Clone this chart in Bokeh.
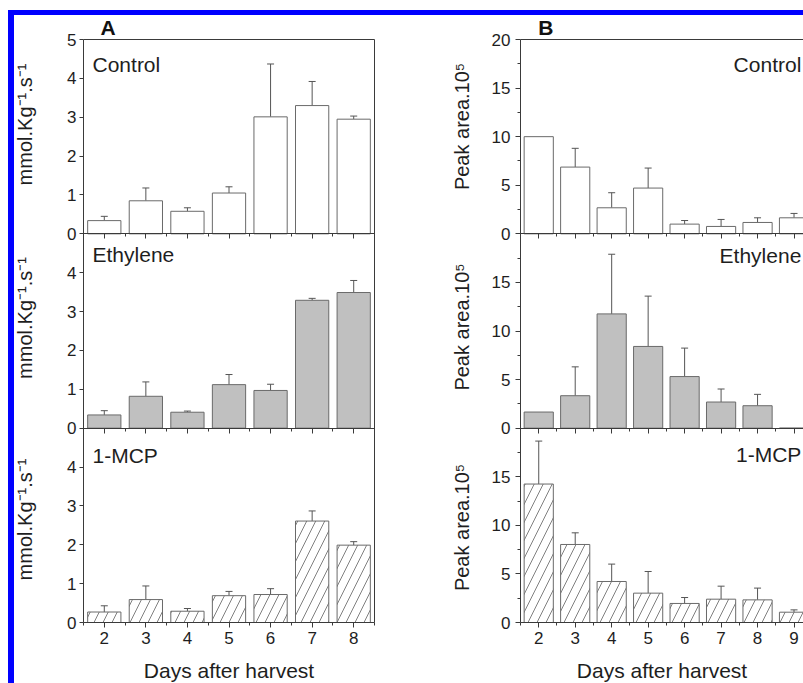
from bokeh.plotting import figure
from bokeh.models import (Range1d, LinearAxis, FixedTicker, SingleIntervalTicker,
                          ColumnDataSource, Whisker, TeeHead, Label, Spacer)
from bokeh.layouts import row, column
from bokeh.embed import file_html
from bokeh.resources import INLINE

# ---------------- data ----------------
days_A = [2, 3, 4, 5, 6, 7, 8]
control_A = [0.34, 0.85, 0.58, 1.05, 3.01, 3.30, 2.95]
control_A_err = [0.11, 0.33, 0.09, 0.16, 1.36, 0.62, 0.08]
ethylene_A = [0.34, 0.82, 0.41, 1.12, 0.97, 3.29, 3.49]
ethylene_A_err = [0.11, 0.37, 0.03, 0.26, 0.16, 0.05, 0.31]
mcp_A = [0.27, 0.59, 0.29, 0.69, 0.72, 2.61, 1.99]
mcp_A_err = [0.16, 0.35, 0.07, 0.11, 0.15, 0.26, 0.09]

days_B = [2, 3, 4, 5, 6, 7, 8, 9]
control_B = [10.0, 6.87, 2.68, 4.71, 1.00, 0.76, 1.17, 1.65]
control_B_err = [0.0, 1.93, 1.55, 2.06, 0.37, 0.72, 0.48, 0.45]
ethylene_B = [1.66, 3.34, 11.76, 8.41, 5.31, 2.69, 2.31, 0.0]
ethylene_B_err = [0.0, 2.97, 6.14, 5.18, 2.93, 1.34, 1.17, 0.0]
mcp_B = [14.25, 8.03, 4.22, 3.02, 1.96, 2.40, 2.33, 1.06]
mcp_B_err = [4.42, 1.20, 1.79, 2.23, 0.61, 1.34, 1.21, 0.24]

treatments = ["Control", "Ethylene", "1-MCP"]
yticks_A_top = [0, 1, 2, 3, 4, 5]
yticks_A = [0, 1, 2, 3, 4]
yticks_B_top = [0, 5, 10, 15, 20]
yticks_B = [0, 5, 10, 15]
yminor_B = [2.5, 7.5, 12.5, 17.5]
ylabel_A = "mmol.Kg\u207b\u00b9.s\u207b\u00b9"
ylabel_B = "Peak area.10\u2075"
xlabel = "Days after harvest"

# ---------------- style ----------------
FONT = "Liberation Sans"
AX = "#3a3a3a"
TXT = "#1e1e1e"
BAR_LINE = "#6a6a6a"
ERR = "#555555"
GRAY = "#c0c0c0"
BLUE = "#0000ff"
CANVAS_H = 668


def style_axis(ax, tick_out, minor_out, standoff, labels=True, line=True):
    ax.axis_line_color = AX if line else None
    ax.axis_line_width = 1
    ax.major_tick_line_color = AX
    ax.minor_tick_line_color = AX
    ax.major_tick_out = tick_out
    ax.major_tick_in = 0
    ax.minor_tick_out = minor_out
    ax.minor_tick_in = 0
    ax.major_label_text_font = FONT
    ax.major_label_text_font_size = "17px"
    ax.major_label_text_color = TXT if labels else None
    ax.major_label_standoff = standoff
    ax.axis_label_text_font = FONT
    ax.axis_label_text_font_size = "20px"
    ax.axis_label_text_font_style = "normal"
    ax.axis_label_text_color = TXT


def make_panel(days, series, band_h, x_hi, width, frame_left, px_x, ylabel,
               top_ticks, ticks, minor, tick_out, minor_out, lab_standoff, axlab_standoff,
               label_tops, letter, letter_xy, name_x, name_ys, name_align, right_edge):
    total = band_h * 3
    frame_top, frame_h = 24, 583
    px_y = frame_h / total
    x0 = 1.5 - frame_left / px_x
    x1 = x0 + width / px_x
    y1 = total + frame_top / px_y
    y0 = y1 - CANVAS_H / px_y
    p = figure(width=width, height=CANVAS_H, x_range=Range1d(x0, x1), y_range=Range1d(y0, y1),
               x_axis_location=None, y_axis_location=None, toolbar_location=None,
               output_backend="svg", min_border=0, outline_line_color=None,
               background_fill_color="white", border_fill_color="white")
    p.grid.visible = False

    p.extra_y_ranges = {s["key"]: Range1d(y0 - band_h * (2 - i), y1 - band_h * (2 - i))
                        for i, s in enumerate(series)}

    # bottom axis with labels
    xb = LinearAxis(fixed_location=0, bounds=(1.5, x_hi), axis_label=xlabel,
                    ticker=SingleIntervalTicker(interval=1, num_minor_ticks=2))
    style_axis(xb, 5, 3, 4)
    xb.axis_label_standoff = 12
    xb.axis_label_text_font_size = "21px"
    p.add_layout(xb, "below")

    # separators between stacked panels (ticks pointing down)
    for k in (1, 2):
        sep = LinearAxis(fixed_location=band_h * k, bounds=(1.5, x_hi),
                         ticker=SingleIntervalTicker(interval=1, num_minor_ticks=2))
        style_axis(sep, 5, 3, 0, labels=False)
        p.add_layout(sep, "below")

    # top edge
    top = LinearAxis(fixed_location=total, bounds=(1.5, x_hi), ticker=FixedTicker(ticks=[]))
    style_axis(top, 0, 0, 0, labels=False)
    p.add_layout(top, "above")

    # left edge line
    le = LinearAxis(fixed_location=1.5, bounds=(0, total), ticker=FixedTicker(ticks=[]))
    style_axis(le, 0, 0, 0, labels=False)
    p.add_layout(le, "left")

    if right_edge:
        re = LinearAxis(fixed_location=x_hi, bounds=(0, total), ticker=FixedTicker(ticks=[]))
        style_axis(re, 0, 0, 0, labels=False)
        p.add_layout(re, "right")

    for i, s in enumerate(series):
        rname = s["key"]
        tk = top_ticks if i == 0 else ticks
        ax = LinearAxis(y_range_name=rname, fixed_location=1.5, bounds=(0, label_tops[i]),
                        ticker=FixedTicker(ticks=tk, minor_ticks=minor), axis_label=ylabel)
        style_axis(ax, tick_out, minor_out, lab_standoff, line=False)
        ax.axis_label_standoff = axlab_standoff
        p.add_layout(ax, "left")

        kw = dict(fill_color=s["fill"], line_color=BAR_LINE, line_width=1)
        if s["hatch"]:
            kw.update(hatch_pattern="/", hatch_color="#808080", hatch_weight=1, hatch_scale=18)
        p.vbar(x=days, top=s["vals"], width=0.8, y_range_name=rname, **kw)

        xs = [d for d, e in zip(days, s["errs"]) if e > 0]
        lo = [v for v, e in zip(s["vals"], s["errs"]) if e > 0]
        up = [v + e for v, e in zip(s["vals"], s["errs"]) if e > 0]
        src = ColumnDataSource(dict(x=xs, lower=lo, upper=up))
        w = Whisker(source=src, base="x", lower="lower", upper="upper", dimension="height",
                    y_range_name=rname, line_color=ERR, line_width=1,
                    upper_head=TeeHead(size=7, line_color=ERR, line_width=1), lower_head=None)
        p.add_layout(w)

        p.add_layout(Label(x=name_x, y=name_ys[i], y_range_name=rname, text=s["name"],
                           text_font=FONT, text_font_size="21px", text_color=TXT,
                           text_align=name_align, text_baseline="alphabetic"))

    p.add_layout(Label(x=letter_xy[0], y=letter_xy[1], text=letter, text_font=FONT,
                       text_font_size="21px", text_font_style="bold", text_color="#111111",
                       text_baseline="alphabetic"))
    return p


series_A = [
    dict(key="ctrl", name=treatments[0], vals=control_A, errs=control_A_err, fill="white", hatch=False),
    dict(key="eth", name=treatments[1], vals=ethylene_A, errs=ethylene_A_err, fill=GRAY, hatch=False),
    dict(key="mcp", name=treatments[2], vals=mcp_A, errs=mcp_A_err, fill="white", hatch=True),
]
series_B = [
    dict(key="ctrl", name=treatments[0], vals=control_B, errs=control_B_err, fill="white", hatch=False),
    dict(key="eth", name=treatments[1], vals=ethylene_B, errs=ethylene_B_err, fill=GRAY, hatch=False),
    dict(key="mcp", name=treatments[2], vals=mcp_B, errs=mcp_B_err, fill="white", hatch=True),
]

pA = make_panel(days_A, series_A, 5, 8.5, 416, 69, 291 / 7, ylabel_A,
                yticks_A_top, yticks_A, [], 4, 0, 3, 28, [5.65, 5.67, 5.29],
                "A", (1.91, 15.30), 1.717, [4.35, 4.47, 4.30], "left", True)
pB = make_panel(days_B, series_B, 20, 9.5, 373, 90, 36.47, ylabel_B,
                yticks_B_top, yticks_B, yminor_B, 5, 3, 5, 16, [22.1, 20.9, 19.6],
                "B", (1.99, 61.21), 9.2, [17.42, 17.77, 17.29], "right", False)

top_white = Spacer(width=803, height=10)
left_white = Spacer(width=8, height=673)
blue_top = Spacer(width=795, height=5, styles={"background-color": BLUE})
blue_left = Spacer(width=6, height=CANVAS_H, styles={"background-color": BLUE})
root = column(top_white, row(left_white, column(blue_top, row(blue_left, pA, pB))))

open("out.html", "w").write(file_html(root, INLINE, title="Respiration and ethylene"))
